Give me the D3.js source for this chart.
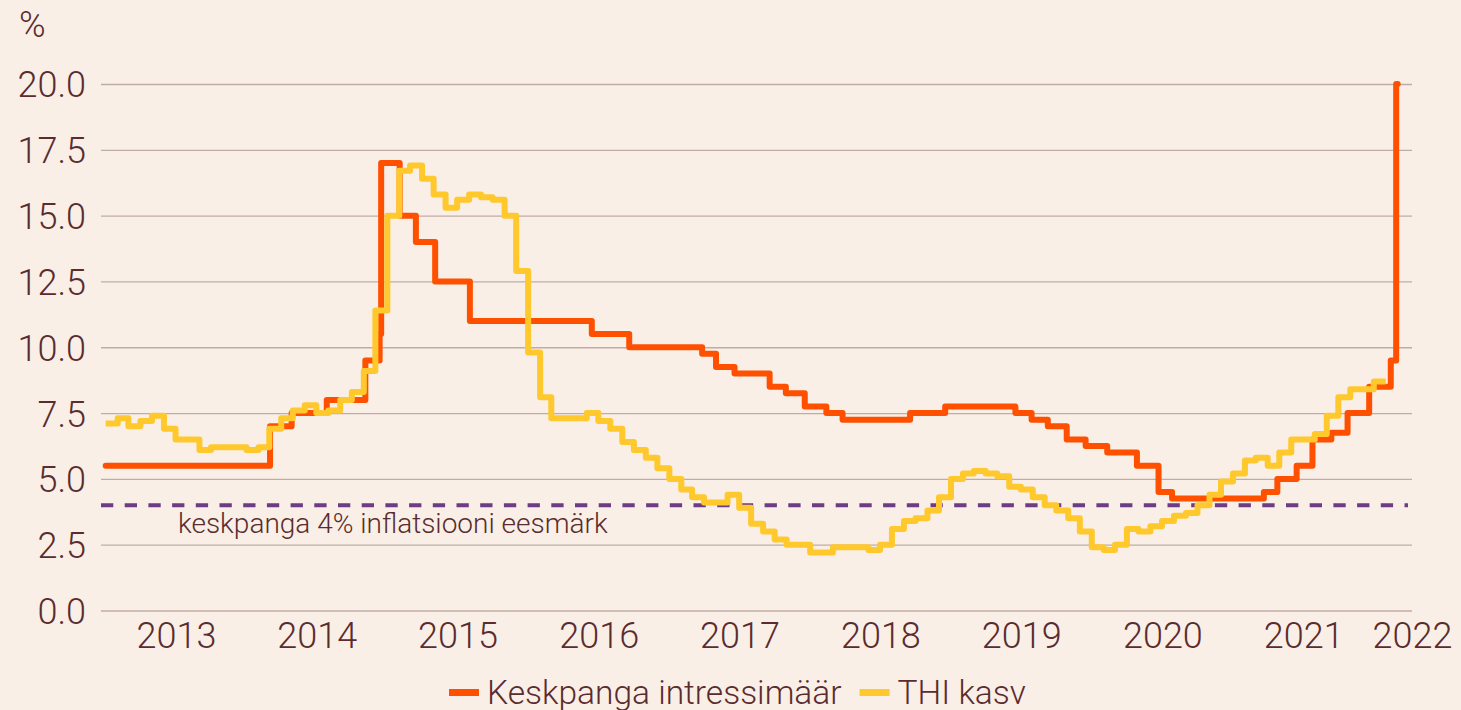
<!DOCTYPE html>
<html><head><meta charset="utf-8">
<script src="https://cdn.jsdelivr.net/npm/d3@7"></script>
<style>
html,body{margin:0;padding:0;background:#f9efe6;}
svg{display:block;font-family:Roboto,"Noto Sans",sans-serif;font-weight:300;}
</style></head><body>
<svg id="chart" width="1461" height="710"></svg>
<script>
// ---- data ----
const cpiStart = "2013-01-01"; // monthly series, one value per month
const cpiValues = [
  7.1, 7.3, 7.0, 7.2, 7.4, 6.9, 6.5, 6.5, 6.1, 6.2, 6.2, 6.2,   // 2013
  6.1, 6.2, 6.9, 7.3, 7.6, 7.8, 7.5, 7.6, 8.0, 8.3, 9.1, 11.4,  // 2014
  15.0, 16.7, 16.9, 16.4, 15.8, 15.3, 15.6, 15.8, 15.7, 15.6, 15.0, 12.9, // 2015
  9.8, 8.1, 7.3, 7.3, 7.3, 7.5, 7.2, 6.9, 6.4, 6.1, 5.8, 5.4,   // 2016
  5.0, 4.6, 4.3, 4.1, 4.1, 4.4, 3.9, 3.3, 3.0, 2.7, 2.5, 2.5,   // 2017
  2.2, 2.2, 2.4, 2.4, 2.4, 2.3, 2.5, 3.1, 3.4, 3.5, 3.8, 4.3,   // 2018
  5.0, 5.2, 5.3, 5.2, 5.1, 4.7, 4.6, 4.3, 4.0, 3.8, 3.5, 3.0,   // 2019
  2.4, 2.3, 2.5, 3.1, 3.0, 3.2, 3.4, 3.6, 3.7, 4.0, 4.4, 4.9,   // 2020
  5.2, 5.7, 5.8, 5.5, 6.0, 6.5, 6.5, 6.7, 7.4, 8.1, 8.4, 8.4,   // 2021
  8.7                                                            // 2022
];
const rateDates = ["2013-01-01","2014-03-03","2014-04-28","2014-07-28","2014-11-05","2014-12-12","2014-12-16",
  "2015-02-02","2015-03-16","2015-05-05","2015-08-03","2016-06-14","2016-09-19","2017-03-27","2017-05-02",
  "2017-06-19","2017-09-18","2017-10-30","2017-12-18","2018-02-12","2018-03-26","2018-09-17","2018-12-17",
  "2019-06-17","2019-07-29","2019-09-09","2019-10-28","2019-12-16","2020-02-10","2020-04-27","2020-06-22",
  "2020-07-27","2021-03-22","2021-04-26","2021-06-15","2021-07-26","2021-09-13","2021-10-25","2021-12-20",
  "2022-02-14","2022-02-28"];
const rateValues = [5.5,7.0,7.5,8.0,9.5,10.5,17,15,14,12.5,11,10.5,10,9.75,9.25,9,8.5,8.25,7.75,7.5,7.25,7.5,7.75,
  7.5,7.25,7,6.5,6.25,6,5.5,4.5,4.25,4.5,5,5.5,6.5,6.75,7.5,8.5,9.5,20];
const rateEnd = "2022-03-04";
const yTicks = [0, 2.5, 5, 7.5, 10, 12.5, 15, 17.5, 20];
const yearLabels = ["2013","2014","2015","2016","2017","2018","2019","2020","2021","2022"];
const targetValue = 4;
const targetLabel = "keskpanga 4% inflatsiooni eesmärk";
const seriesNames = ["Keskpanga intressimäär", "THI kasv"];
const unitLabel = "%";

// ---- style / layout ----
const C = {text:"#5a2c2f", grid:"#c0aca6", red:"#ff5000", yellow:"#ffc82c", purple:"#6e3b85"};
const plotL = 101, plotR = 1412, yTop = 84, yBot = 610.5;
const parse = d3.timeParse("%Y-%m-%d");

const svg = d3.select("#chart");
svg.append("rect").attr("width",1461).attr("height",710).attr("fill","#f9efe6");

const x = d3.scaleTime().domain([parse("2013-01-01"), parse("2022-04-10")]).range([105.7, plotR]);
const y = d3.scaleLinear().domain([0, 20]).range([yBot, yTop]);

// y axis + grid
const gy = svg.append("g").attr("transform", `translate(${plotL},0)`)
  .call(d3.axisLeft(y).tickValues(yTicks).tickFormat(d3.format(".1f"))
    .tickSize(-(plotR - plotL)).tickPadding(15));
gy.select(".domain").remove();
gy.selectAll(".tick line").attr("stroke", C.grid).attr("stroke-width", 1.3);
gy.selectAll(".tick text").attr("fill", C.text).attr("font-size", 36).attr("font-family","Roboto")
  .attr("font-weight",300).attr("dy","0.36em");

svg.append("text").attr("x",19).attr("y",37).attr("fill",C.text).attr("font-size",36).text(unitLabel);

// x axis (labels at mid-year, clamped to the plot)
const xc = x.copy().clamp(true);
const yearTicks = yearLabels.map(s => new Date(+s, 6, 2));
const gx = svg.append("g").attr("transform", `translate(0,${yBot})`)
  .call(d3.axisBottom(xc).tickValues(yearTicks).tickFormat(d3.timeFormat("%Y")).tickSize(0).tickPadding(12));
gx.select(".domain").remove();
gx.selectAll(".tick text").attr("fill", C.text).attr("font-size", 36).attr("font-family","Roboto")
  .attr("font-weight",300);

// target line
svg.append("line").attr("x1", plotL).attr("x2", 1408).attr("y1", y(targetValue)).attr("y2", y(targetValue))
  .attr("stroke", C.purple).attr("stroke-width", 4).attr("stroke-dasharray", "12.3 11.4");
svg.append("text").attr("x", 178).attr("y", y(targetValue) + 28).attr("fill", C.text)
  .attr("font-size", 28).text(targetLabel);

// series
const rateData = rateDates.map((d,i) => ({date: parse(d), v: rateValues[i]}));
rateData.push({date: parse(rateEnd), v: rateValues[rateValues.length-1]});
const c0 = parse(cpiStart);
const cpiData = cpiValues.map((v,i) => ({date: d3.timeMonth.offset(c0, i), v}));
cpiData.push({date: d3.timeMonth.offset(c0, cpiValues.length), v: cpiValues[cpiValues.length-1]});

const line = d3.line().x(d => x(d.date)).y(d => y(d.v)).curve(d3.curveStepAfter);
svg.append("path").datum(rateData).attr("d", line).attr("fill","none").attr("stroke", C.red)
  .attr("stroke-width", 6).attr("stroke-linejoin","round").attr("stroke-linecap","round");
svg.append("path").datum(cpiData).attr("d", line).attr("fill","none").attr("stroke", C.yellow)
  .attr("stroke-width", 6).attr("stroke-linejoin","round");

// legend
const lg = svg.append("g").attr("font-size", 33.5).attr("fill", C.text);
let lx = 449;
[[seriesNames[0], C.red],[seriesNames[1], C.yellow]].forEach(([name,col]) => {
  lg.append("line").attr("x1", lx).attr("x2", lx + 30).attr("y1", 692.5).attr("y2", 692.5)
    .attr("stroke", col).attr("stroke-width", 7);
  const t = lg.append("text").attr("x", lx + 38).attr("y", 704).text(name);
  lx = lx + 38 + t.node().getComputedTextLength() + 18;
});
</script>
</body></html>
